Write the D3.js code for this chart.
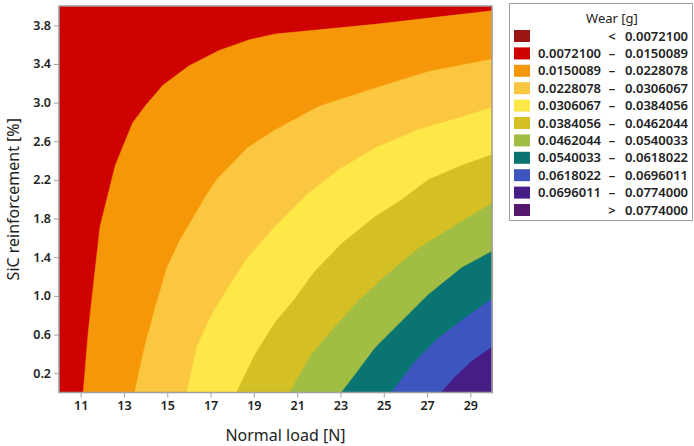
<!DOCTYPE html>
<html lang="en">
<head>
<meta charset="UTF-8" />
<title>Wear contour</title>
<style>
  body { margin: 0; background: #fff; }
  text { font-family: "Noto Sans", "Open Sans", sans-serif; fill: #222; }
</style>
</head>
<body>
<div id="container"></div>
<script src="https://cdnjs.cloudflare.com/ajax/libs/d3/7.8.5/d3.min.js"></script>
<script>
// tick values
const loadTicks = [11, 13, 15, 17, 19, 21, 23, 25, 27, 29];
const sicTicks = [0.2, 0.6, 1.0, 1.4, 1.8, 2.2, 2.6, 3.0, 3.4, 3.8];

// contour levels of wear [g]
const levels = [0.0072100, 0.0150089, 0.0228078, 0.0306067, 0.0384056,
                0.0462044, 0.0540033, 0.0618022, 0.0696011, 0.0774000];
const colors = ["#9c1515", "#ce0000", "#f59708", "#fbc640", "#fde847",
                "#d4bf25", "#a2bd44", "#0a7472", "#3d55bf", "#461c85", "#55186f"];

// contour boundaries: [normal load, SiC %], right edge -> bottom edge
const b1 = [[30, 3.95], [24.6, 3.81], [20.0, 3.71], [18.8, 3.65], [17.4, 3.54], [16.0, 3.38],
            [14.8, 3.18], [14.0, 2.97], [13.4, 2.79], [12.6, 2.35], [12.2, 1.99], [11.9, 1.72],
            [11.6, 1.13], [11.35, 0.62], [11.12, 0]];
const b2 = [[30, 3.45], [27.05, 3.32], [24.6, 3.15], [22.0, 2.96], [20.0, 2.72], [18.7, 2.53],
            [17.35, 2.22], [16.8, 2.04], [15.6, 1.58], [15.0, 1.30], [14.4, 0.84], [13.9, 0.42],
            [13.5, 0]];
const b3 = [[30, 2.95], [28.6, 2.85], [26.6, 2.72], [24.6, 2.53], [22.9, 2.30], [21.4, 2.04],
            [20.0, 1.72], [18.7, 1.39], [17.8, 1.08], [17.05, 0.80], [16.4, 0.49], [15.9, 0]];
const b4 = [[30, 2.46], [28.6, 2.35], [27.05, 2.20], [25.8, 1.99], [24.6, 1.82], [23.05, 1.54],
            [21.8, 1.25], [20.9, 0.97], [20.0, 0.73], [19.05, 0.39], [18.2, 0]];
const b5 = [[30, 1.96], [28.6, 1.77], [26.6, 1.49], [25.05, 1.20], [23.8, 0.94], [22.75, 0.68],
            [21.65, 0.39], [20.65, 0]];
const b6 = [[30, 1.46], [28.6, 1.29], [27.05, 1.01], [25.8, 0.73], [24.6, 0.46], [23.8, 0.22],
            [23.05, 0]];
const b7 = [[30, 0.97], [28.75, 0.77], [27.5, 0.56], [26.45, 0.32], [25.35, 0]];
const b8 = [[30, 0.47], [29.05, 0.32], [28.3, 0.16], [27.65, 0]];
const boundaries = [b1, b2, b3, b4, b5, b6, b7, b8];

const width = 694, height = 446;
const plot = { left: 59, right: 492, top: 6, bottom: 392.5 };

const svg = d3.select("#container").append("svg")
  .attr("width", width).attr("height", height);

const x = d3.scaleLinear().domain([10, 30]).range([plot.left, plot.right]);
const y = d3.scaleLinear().domain([0, 4]).range([plot.bottom, plot.top]);

// background level (lowest shown band)
svg.append("rect")
  .attr("x", x(10)).attr("y", y(4))
  .attr("width", x(30) - x(10)).attr("height", y(0) - y(4))
  .attr("fill", colors[1]);

// each band = area to the lower right of its boundary
const line = d3.line().x(d => x(d[0])).y(d => y(d[1]));
svg.append("g").selectAll("path").data(boundaries).join("path")
  .attr("d", d => line(d.concat([[30, 0]])) + "Z")
  .attr("fill", (d, i) => colors[i + 2])
  .attr("stroke", (d, i) => colors[i + 2])
  .attr("stroke-width", 0.6);

// frame
svg.append("rect")
  .attr("x", plot.left).attr("y", plot.top)
  .attr("width", plot.right - plot.left).attr("height", plot.bottom - plot.top)
  .attr("fill", "none").attr("stroke", "#a0a0a0").attr("stroke-width", 1.5);

// axes
const xAxis = svg.append("g").attr("transform", `translate(0,${plot.bottom})`)
  .call(d3.axisBottom(x).tickValues(loadTicks).tickSize(5).tickPadding(4));
const yAxis = svg.append("g").attr("transform", `translate(${plot.left},0)`)
  .call(d3.axisLeft(y).tickValues(sicTicks).tickFormat(d3.format(".1f")).tickSize(5).tickPadding(3));
[xAxis, yAxis].forEach(a => {
  a.select(".domain").remove();
  a.selectAll(".tick line").attr("stroke", "#a0a0a0");
  a.selectAll(".tick text").style("font-size", "12.5px").style("font-weight", 600)
    .attr("fill", "#222");
});

svg.append("text")
  .attr("x", (plot.left + plot.right) / 2 + 10).attr("y", 441)
  .attr("text-anchor", "middle").style("font-size", "16px")
  .text("Normal load [N]");
svg.append("text")
  .attr("transform", `translate(19,${(plot.top + plot.bottom) / 2}) rotate(-90)`)
  .attr("text-anchor", "middle").style("font-size", "16px")
  .text("SiC reinforcement [%]");

// legend
const fmt = d3.format(".7f");
const legendRows = colors.map((c, i) => {
  if (i === 0) return { c, lo: "", mid: "<", hi: fmt(levels[0]) };
  if (i === levels.length) return { c, lo: "", mid: ">", hi: fmt(levels[i - 1]) };
  return { c, lo: fmt(levels[i - 1]), mid: "\u2013", hi: fmt(levels[i]) };
});

const lg = svg.append("g");
lg.append("rect")
  .attr("x", 509.5).attr("y", 3.5).attr("width", 183).attr("height", 217)
  .attr("fill", "#fff").attr("stroke", "#a0a0a0");
lg.append("text").attr("x", 612).attr("y", 23).attr("text-anchor", "middle")
  .style("font-size", "13px").text("Wear [g]");

const row = lg.selectAll("g.row").data(legendRows).join("g")
  .attr("class", "row")
  .attr("transform", (d, i) => `translate(0,${36 + i * 17.4})`);
row.append("rect").attr("x", 514).attr("y", -6).attr("width", 16).attr("height", 12)
  .attr("fill", d => d.c);
row.append("text").attr("x", 601).attr("dy", "0.35em").attr("text-anchor", "end")
  .style("font-size", "13px").style("font-weight", 600).text(d => d.lo);
row.append("text").attr("x", 612).attr("dy", "0.35em").attr("text-anchor", "middle")
  .style("font-size", "13px").style("font-weight", 600).text(d => d.mid);
row.append("text").attr("x", 688).attr("dy", "0.35em").attr("text-anchor", "end")
  .style("font-size", "13px").style("font-weight", 600).text(d => d.hi);
</script>
</body>
</html>
